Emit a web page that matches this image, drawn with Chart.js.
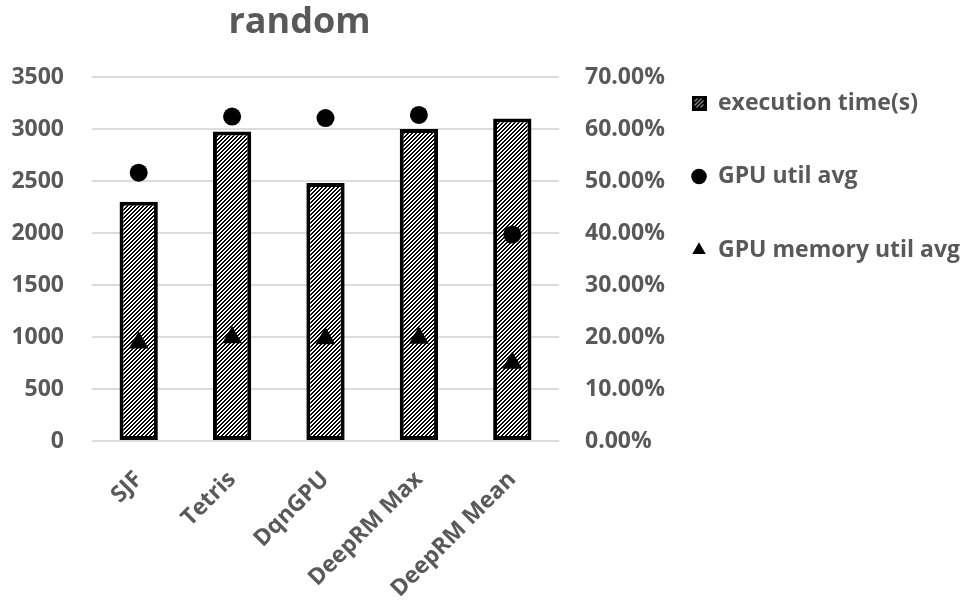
<!DOCTYPE html>
<html><head><meta charset="utf-8">
<script src="https://cdn.jsdelivr.net/npm/chart.js@4.4.0/dist/chart.umd.min.js"></script>
<style>html,body{margin:0;padding:0;background:#fff}#wrap{width:962px;height:600px;position:relative}</style>
</head><body><div id="wrap"><canvas id="c" width="962" height="600"></canvas></div>
<script>
const categories = ['SJF', 'Tetris', 'DqnGPU', 'DeepRM Max', 'DeepRM Mean'];
const executionTime = [2300, 2975, 2480, 3000, 3100];
const gpuUtilAvg = [0.516, 0.624, 0.621, 0.627, 0.397];
const gpuMemUtilAvg = [0.189, 0.199, 0.197, 0.198, 0.150];
const leftTickLabels = ['0', '500', '1000', '1500', '2000', '2500', '3000', '3500'];
const rightTickLabels = ['0.00%', '10.00%', '20.00%', '30.00%', '40.00%', '50.00%', '60.00%', '70.00%'];
const seriesNames = ['execution time(s)', 'GPU util avg', 'GPU memory util avg'];

const canvas = document.getElementById('c');
const ctx = canvas.getContext('2d');

function makeHatchPattern() {
  const t = document.createElement('canvas');
  t.width = 4; t.height = 4;
  const g = t.getContext('2d');
  g.fillStyle = '#ffffff'; g.fillRect(0, 0, 4, 4);
  g.fillStyle = '#000000';
  for (let y = 0; y < 4; y++) for (let x = 0; x < 4; x++) if ((x + y) % 4 < 2) g.fillRect(x, y, 1, 1);
  return ctx.createPattern(t, 'repeat');
}
function makeLegendIcon() {
  const t = document.createElement('canvas');
  t.width = 15; t.height = 15;
  const g = t.getContext('2d');
  g.fillStyle = '#000'; g.fillRect(0, 0, 15, 15);
  g.fillStyle = '#fff';
  for (let y = 3; y < 12; y++) for (let x = 3; x < 12; x++) if ((x + y) % 4 === 0) g.fillRect(x, y, 1, 1);
  return t;
}
const hatch = makeHatchPattern();
const legendIcon = makeLegendIcon();

const FONT = 'Open Sans';
const GREY = '#595959';
const tickFont = { family: FONT, size: 23, weight: 'bold' };

const titleShift = {
  id: 'titleShift',
  afterLayout(chart) {
    const t = chart.titleBlock;
    if (t) { t.left -= 26; t.right -= 26; }
  }
};

new Chart(ctx, {
  data: {
    labels: categories,
    datasets: [
      {
        type: 'bar', label: seriesNames[0], data: executionTime, yAxisID: 'y', order: 2,
        backgroundColor: hatch, borderColor: '#000', borderWidth: 4, borderSkipped: false,
        barPercentage: 0.41, categoryPercentage: 1
      },
      {
        type: 'line', label: seriesNames[1], data: gpuUtilAvg, yAxisID: 'y2', order: 1, showLine: false,
        pointStyle: 'circle', pointRadius: 9, pointBackgroundColor: '#000', pointBorderColor: '#000', pointBorderWidth: 0,
        backgroundColor: '#000', borderColor: '#000'
      },
      {
        type: 'line', label: seriesNames[2], data: gpuMemUtilAvg, yAxisID: 'y2', order: 0, showLine: false,
        pointStyle: 'triangle', pointRadius: 11.5, pointBackgroundColor: '#000', pointBorderColor: '#000', pointBorderWidth: 0,
        backgroundColor: '#000', borderColor: '#000'
      }
    ]
  },
  options: {
    responsive: false,
    animation: false,
    devicePixelRatio: 1,
    layout: { padding: { top: 0, left: 0, right: 0, bottom: 0 } },
    plugins: {
      tooltip: { enabled: false },
      title: {
        display: true, text: 'random', position: 'top', fullSize: false, color: GREY,
        font: { family: FONT, size: 36, weight: 'bold' },
        padding: { top: 1.4, bottom: 32.4 }
      },
      legend: {
        display: true, position: 'right', align: 'start', fullSize: false, maxWidth: 285,
        labels: {
          usePointStyle: true, boxWidth: 15, boxHeight: 11, padding: 14.5,
          color: GREY, font: { family: FONT, size: 23, weight: 'bold', lineHeight: 2.565 },
          sort: (a, b) => a.datasetIndex - b.datasetIndex,
          generateLabels(chart) {
            const items = Chart.defaults.plugins.legend.labels.generateLabels(chart);
            items.forEach(it => {
              it.text = [seriesNames[it.datasetIndex]];
              if (it.datasetIndex === 0) { it.pointStyle = legendIcon; }
              else { it.fillStyle = '#000'; it.strokeStyle = '#000'; it.lineWidth = 0; }
              it.fontColor = GREY;
            });
            return items;
          }
        }
      }
    },
    scales: {
      x: {
        grid: { display: false, drawTicks: false },
        border: { display: false },
        ticks: { color: GREY, font: tickFont, minRotation: 45, maxRotation: 45, autoSkip: false, padding: 25 },
        afterFit(s) { s.height = 159; s.paddingLeft = 0; s.paddingRight = 0; }
      },
      y: {
        position: 'left', min: 0, max: 3500,
        grid: { color: '#dcdcdc', lineWidth: 2, drawTicks: false },
        border: { display: false },
        ticks: { stepSize: 500, color: GREY, font: tickFont, padding: 28,
          callback: (v, i) => leftTickLabels[i] },
        afterFit(s) { s.width = 92; }
      },
      y2: {
        position: 'right', min: 0, max: 0.7,
        grid: { display: false, drawTicks: false },
        border: { display: false },
        ticks: { stepSize: 0.1, color: GREY, font: tickFont, padding: 26,
          callback: (v, i) => rightTickLabels[i] },
        afterFit(s) { s.width = 118; }
      }
    }
  },
  plugins: [titleShift]
});
</script></body></html>
